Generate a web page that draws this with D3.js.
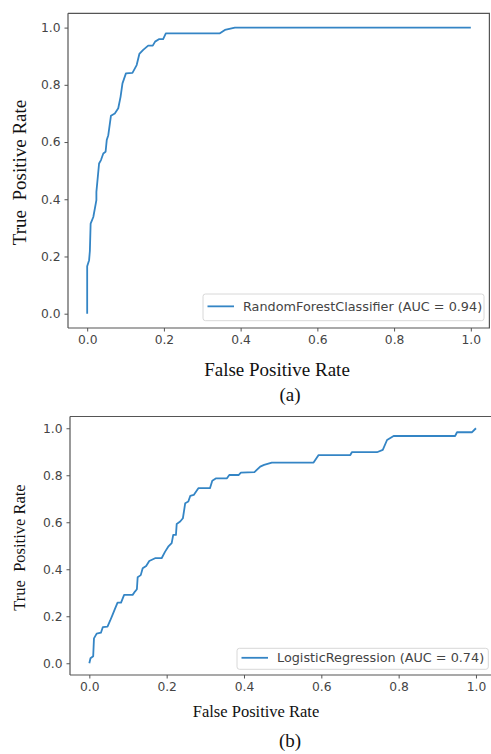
<!DOCTYPE html>
<html>
<head>
<meta charset="utf-8">
<script src="https://cdn.jsdelivr.net/npm/d3@7"></script>
<style>
  body { margin: 0; background: #fff; }
  svg { display: block; }
  .tick-label { font-family: "DejaVu Sans", sans-serif; fill: #444; }
  .axis-title { font-family: "Liberation Serif", "Times New Roman", serif; fill: #111; }
</style>
</head>
<body>
<div id="chart"></div>
<script>
// ROC points
const rfFpr = [0, 0, 0.005, 0.007, 0.009, 0.016, 0.024, 0.024, 0.031, 0.036, 0.042, 0.048, 0.051, 0.055,
  0.062, 0.072, 0.081, 0.087, 0.092, 0.101, 0.118, 0.129, 0.136, 0.146, 0.159, 0.171, 0.177, 0.188,
  0.198, 0.205, 0.346, 0.359, 0.385, 1.0];
const rfTpr = [0, 0.166, 0.187, 0.219, 0.315, 0.338, 0.397, 0.426, 0.525, 0.537, 0.56, 0.566, 0.607, 0.624,
  0.692, 0.700, 0.718, 0.758, 0.805, 0.840, 0.842, 0.869, 0.908, 0.922, 0.937, 0.937, 0.951, 0.960,
  0.960, 0.980, 0.980, 0.992, 1.0, 1.0];

const lrFpr = [0, 0.003, 0.010, 0.012, 0.019, 0.030, 0.035, 0.047, 0.054, 0.060, 0.066, 0.073, 0.082, 0.090,
  0.112, 0.118, 0.123, 0.125, 0.133, 0.138, 0.147, 0.155, 0.170, 0.187, 0.196, 0.204, 0.213, 0.217,
  0.224, 0.226, 0.235, 0.242, 0.248, 0.256, 0.261, 0.270, 0.282, 0.312, 0.318, 0.328, 0.356, 0.362,
  0.386, 0.392, 0.427, 0.442, 0.452, 0.472, 0.580, 0.593, 0.675, 0.679, 0.744, 0.759, 0.770, 0.787,
  0.946, 0.951, 0.990, 1.0];
const lrTpr = [0, 0.021, 0.030, 0.106, 0.126, 0.130, 0.154, 0.156, 0.182, 0.206, 0.230, 0.258, 0.258, 0.291,
  0.291, 0.305, 0.315, 0.366, 0.375, 0.404, 0.414, 0.435, 0.447, 0.447, 0.475, 0.496, 0.511, 0.546,
  0.546, 0.593, 0.603, 0.617, 0.681, 0.688, 0.712, 0.716, 0.745, 0.745, 0.777, 0.787, 0.787, 0.801,
  0.801, 0.811, 0.813, 0.837, 0.844, 0.854, 0.854, 0.886, 0.886, 0.898, 0.898, 0.908, 0.950, 0.967,
  0.967, 0.983, 0.983, 1.0];

const tickValues = [0, 0.2, 0.4, 0.6, 0.8, 1.0];
const panelNames = ['(a)', '(b)'];
const legendLabels = ['RandomForestClassifier (AUC = 0.94)', 'LogisticRegression (AUC = 0.74)'];
const xTitle = 'False Positive Rate';
const yTitle = 'True\u00a0\u00a0Positive Rate';

const W = 491, H = 754;
const lineColor = '#3485c5';

const svg = d3.select('#chart').append('svg')
  .attr('width', W).attr('height', H);

const panels = [
  {
    fpr: rfFpr, tpr: rfTpr, name: panelNames[0], legend: legendLabels[0],
    x0: 68, x1: 490, y0: 328, y1: 13.3, rightSpine: true,
    titleSize: 19, xTitleX: 277, xTitleY: 376, yTitleY: 172.5,
    nameX: 290, nameY: 401,
    legendBox: [203, 294, 484, 320.7]
  },
  {
    fpr: lrFpr, tpr: lrTpr, name: panelNames[1], legend: legendLabels[1],
    x0: 70, x1: 495.3, y0: 675, y1: 416.5, rightSpine: false,
    titleSize: 16.5, xTitleX: 256, xTitleY: 717, yTitleY: 547.5,
    nameX: 290, nameY: 747,
    legendBox: [237, 648.3, 488.3, 669.3]
  }
];

panels.forEach(p => drawPanel(p));

function drawPanel(p) {
  const x = d3.scaleLinear().domain([-0.05, 1.05]).range([p.x0, p.x1]);
  const y = d3.scaleLinear().domain([-0.05, 1.05]).range([p.y0, p.y1]);
  const g = svg.append('g');

  // ticks
  const xAxis = d3.axisBottom(x).tickValues(tickValues).tickSize(3.5).tickPadding(4)
    .tickFormat(d3.format('.1f'));
  const yAxis = d3.axisLeft(y).tickValues(tickValues).tickSize(3.5).tickPadding(4)
    .tickFormat(d3.format('.1f'));

  const gx = g.append('g').attr('transform', `translate(0,${p.y0})`).call(xAxis);
  const gy = g.append('g').attr('transform', `translate(${p.x0},0)`).call(yAxis);
  [gx, gy].forEach(a => {
    a.select('.domain').remove();
    a.selectAll('line').attr('stroke', '#555').attr('stroke-width', 1);
    a.selectAll('text').attr('class', 'tick-label').attr('font-size', 12.3).attr('fill', '#444');
  });

  // curve
  const pts = p.fpr.map((f, i) => [f, p.tpr[i]]);
  g.append('path')
    .datum(pts)
    .attr('fill', 'none')
    .attr('stroke', lineColor)
    .attr('stroke-width', 1.8)
    .attr('stroke-linejoin', 'round')
    .attr('d', d3.line().x(d => x(d[0])).y(d => y(d[1])));

  // spines
  const spine = g.append('g').attr('stroke', '#555').attr('stroke-width', 1.2);
  spine.append('line').attr('x1', p.x0).attr('x2', p.x1).attr('y1', p.y1).attr('y2', p.y1);
  spine.append('line').attr('x1', p.x0).attr('x2', p.x1).attr('y1', p.y0).attr('y2', p.y0);
  spine.append('line').attr('x1', p.x0).attr('x2', p.x0).attr('y1', p.y0).attr('y2', p.y1);
  if (p.rightSpine) {
    spine.append('line').attr('x1', p.x1 - 0.6).attr('x2', p.x1 - 0.6).attr('y1', p.y0).attr('y2', p.y1);
  }

  // legend
  const [lx0, ly0, lx1, ly1] = p.legendBox;
  const lg = g.append('g');
  lg.append('rect')
    .attr('x', lx0).attr('y', ly0)
    .attr('width', lx1 - lx0).attr('height', ly1 - ly0)
    .attr('rx', 2.5)
    .attr('fill', 'rgba(255,255,255,0.8)')
    .attr('stroke', '#d8d8d8').attr('stroke-width', 1);
  const ly = (ly0 + ly1) / 2 - 1;
  lg.append('line')
    .attr('x1', lx0 + 4.5).attr('x2', lx0 + 31)
    .attr('y1', ly).attr('y2', ly)
    .attr('stroke', lineColor).attr('stroke-width', 1.8);
  lg.append('text')
    .attr('class', 'tick-label')
    .attr('x', lx0 + 40).attr('y', ly)
    .attr('dy', '0.35em')
    .attr('font-size', 12.8)
    .attr('fill', '#444')
    .text(p.legend);

  // titles
  g.append('text')
    .attr('class', 'axis-title')
    .attr('x', p.xTitleX).attr('y', p.xTitleY)
    .attr('text-anchor', 'middle')
    .attr('font-size', p.titleSize)
    .text(xTitle);

  g.append('text')
    .attr('class', 'axis-title')
    .attr('transform', `translate(19,${p.yTitleY}) rotate(-90)`)
    .attr('text-anchor', 'middle')
    .attr('dy', '0.35em')
    .attr('font-size', p.titleSize)
    .text(yTitle);

  g.append('text')
    .attr('class', 'axis-title')
    .attr('x', p.nameX).attr('y', p.nameY)
    .attr('text-anchor', 'middle')
    .attr('font-size', 19)
    .text(p.name);
}
</script>
</body>
</html>
